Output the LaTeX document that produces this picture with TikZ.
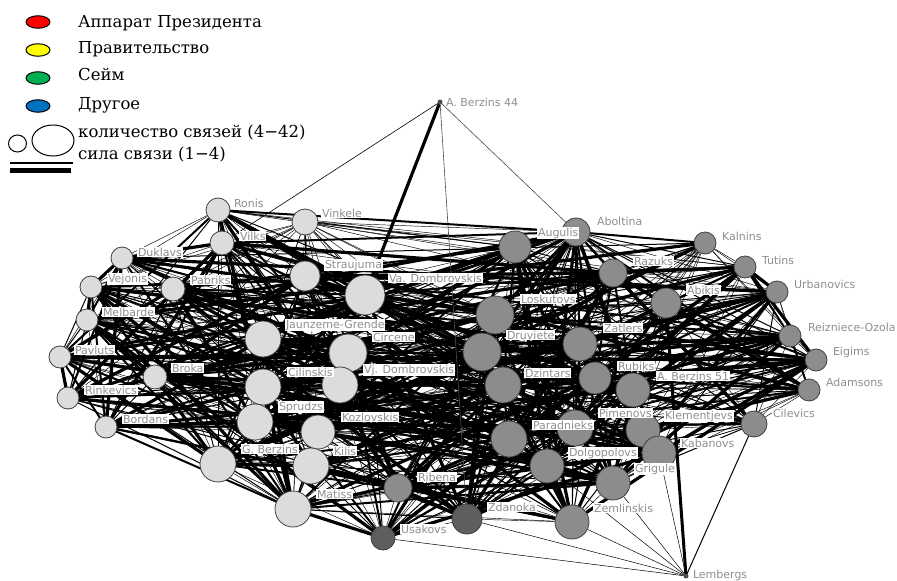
\documentclass[tikz,border=0pt]{standalone}
\usepackage{fontspec}
\newfontfamily\labfont{DejaVu Sans}
\newfontfamily\legfont{DejaVu Serif}
\usetikzlibrary{backgrounds,shapes.geometric}
\definecolor{nlight}{HTML}{DCDCDC}
\definecolor{ngray}{HTML}{8C8C8C}
\definecolor{ndark}{HTML}{5E5E5E}
\definecolor{labgray}{HTML}{8F8F8F}
\definecolor{lgred}{HTML}{FF0000}
\definecolor{lgyellow}{HTML}{FFFF00}
\definecolor{lggreen}{HTML}{00B050}
\definecolor{lgblue}{HTML}{0070C0}
\tikzset{
  vtx/.style={circle, draw=black!75, line width=0.8pt, inner sep=0pt, minimum size=#1},
  dotvtx/.style={circle, fill=black!70, inner sep=0pt, minimum size=5pt},
  lab/.style={anchor=west, fill=white, inner sep=0.8pt, text=labgray, font=\labfont\fontsize{11}{12}\selectfont},
  legtext/.style={anchor=base west, inner sep=0pt, font=\legfont\fontsize{16.5}{18}\selectfont},
  legmark/.style={ellipse, draw=black, line width=1pt, minimum width=24pt, minimum height=12.5pt, inner sep=0pt},
  conn/.style={draw=black, line cap=round}
}
\def\NL{%
ronis/218/210/12/nlight/Ronis/233/203,
vinkele/305/222/13/nlight/Vinkele/321/213,
vilks/222/243/12/nlight/Vilks/239/236,
duklavs/122/258/11/nlight/Duklavs/137/252,
vejonis/91/287/11/nlight/Vejonis/107/279,
pabriks/173/289/12/nlight/Pabriks/190/280,
straujuma/305/276/15/nlight/Straujuma/324/265,
vadomb/365/295/20/nlight/Va. Dombrovskis/388/278,
melbarde/87/320/11/nlight/Melbarde/102/312,
jaunzeme/263/339/18/nlight/Jaunzeme-Grende/285/325,
circene/348/353/19/nlight/Circene/372/337,
pavluts/60/357/11/nlight/Pavluts/74/350,
broka/155/377/12/nlight/Broka/171/368,
cilinskis/263/387/18/nlight/Cilinskis/287/372,
vjdomb/340/385/18/nlight/Vj. Dombrovskis/363/370,
rinkevics/68/398/11/nlight/Rinkevics/84/390,
bordans/106/427/11/nlight/Bordans/122/419,
sprudzs/255/422/18/nlight/Sprudzs/278/407,
kozlovskis/318/432/17/nlight/Kozlovskis/341/417,
gberzins/218/464/18/nlight/G. Berzins/241/449,
kilis/311/466/18/nlight/Kilis/333/451,
matiss/293/509/18/nlight/Matiss/316/494,
ribena/398/488/14/ngray/Ribena/417/477,
usakovs/383/538/12/ndark/Usakovs/400/529,
zdanoka/467/519/15/ndark/Zdanoka/487/507,
aboltina/576/232/14/ngray/Aboltina/596/221,
augulis/515/247/16/ngray/Augulis/537/233,
kalnins/705/243/11/ngray/Kalnins/721/236,
razuks/613/273/14/ngray/Razuks/633/261,
tutins/745/267/11/ngray/Tutins/761/260,
urbanovics/777/292/11/ngray/Urbanovics/793/284,
abikis/666/303/15/ngray/Abikis/686/290,
loskutovs/495/315/19/ngray/Loskutovs/520/299,
druviete/482/352/19/ngray/Druviete/506/335,
zatlers/580/344/17/ngray/Zatlers/603/328,
reizniece/790/336/11/ngray/Reizniece-Ozola/807/327,
eigims/816/360/11/ngray/Eigims/832/352,
dzintars/503/385/18/ngray/Dzintars/524/373,
rubiks/595/378/16/ngray/Rubiks/617/366,
aberzinsfo/633/390/17/ngray/A. Berzins 51/656/376,
adamsons/809/390/11/ngray/Adamsons/825/382,
cilevics/754/424/13/ngray/Cilevics/772/413,
paradnieks/509/439/18/ngray/Paradnieks/532/425,
pimenovs/575/428/18/ngray/Pimenovs/598/413,
klementjevs/643/430/17/ngray/Klementjevs/664/416,
kabanovs/659/453/17/ngray/Kabanovs/680/443,
dolgopolovs/547/466/17/ngray/Dolgopolovs/568/453,
grigule/613/483/17/ngray/Grigule/634/469,
zemlinskis/572/522/17/ngray/Zemlinskis/593/508}
\begin{document}
\begin{tikzpicture}[x=1pt,y=1pt]
\useasboundingbox (0,0) rectangle (897,-581);
% vertices
\foreach \id/\x/\y/\r/\f/\l/\lx/\ly in \NL {
  \node[vtx={2*\r}, fill=\f] (\id) at (\x,-\y) {};
}
\node[dotvtx] (abft) at (440,-102) {};
\node[dotvtx] (lembergs) at (686,-576) {};
% connectors
\begin{pgfonlayer}{background}
\fill[white] (0,0) rectangle (897,-581);
\foreach \ida/\xa/\ya/\ra/\fa/\la/\lxa/\lya [count=\i] in \NL {
  \foreach \idb/\xb/\yb/\rb/\fb/\lb/\lxb/\lyb [count=\j] in \NL {
    \ifnum\j>\i
      \pgfmathtruncatemacro\h{mod(\i*37+\j*23+\i*\j*3,101)}
      \pgfmathsetmacro\d{veclen((\xa-\xb)/10,(\ya-\yb)/10)}
      \pgfmathtruncatemacro\thr{\d<15 ? 82 : (\d<33 ? 62 : 36)}
      \ifnum\h<\thr
        \pgfmathtruncatemacro\w{mod(\i*7+\j*11+\i*\j,13)}
        \ifcase\w \def\lw{0.45}\or\def\lw{0.45}\or\def\lw{0.45}\or\def\lw{0.45}\or\def\lw{1}\or\def\lw{1}\or
          \def\lw{1}\or\def\lw{2}\or\def\lw{2}\or\def\lw{2}\or\def\lw{3.2}\or\def\lw{3.2}\else\def\lw{3.2}\fi
        \draw[conn, line width=\lw pt] (\ida) -- (\idb);
      \fi
    \fi
  }
}
\draw[conn, line width=0.6pt] (abft) -- (vilks);
\draw[conn, line width=3.2pt] (abft) -- (vadomb);
\draw[conn, line width=0.6pt, black!70] (abft) -- (zdanoka);
\draw[conn, line width=0.6pt, black!70] (abft) -- (aboltina);
\draw[conn, line width=1pt] (lembergs) -- (cilevics);
\draw[conn, line width=3pt] (lembergs) -- (abikis);
\draw[conn, line width=0.5pt] (lembergs) -- (kabanovs);
\draw[conn, line width=0.5pt] (lembergs) -- (grigule);
\draw[conn, line width=0.5pt] (lembergs) -- (zemlinskis);
\draw[conn, line width=0.5pt] (lembergs) -- (dolgopolovs);
\draw[conn, line width=0.5pt] (lembergs) -- (zdanoka);
\draw[conn, line width=0.5pt] (lembergs) -- (usakovs);
\end{pgfonlayer}
% labels
\foreach \id/\x/\y/\r/\f/\l/\lx/\ly in \NL {
  \node[lab] (lab-\id) at (\lx,-\ly) {\l};
}
\node[lab, fill=none] (lab-abft) at (445,-102) {A. Berzins 44};
\node[lab, fill=none] (lab-lembergs) at (692,-575) {Lembergs};
% legend
\node[legmark, fill=lgred] (m1) at (38,-22) {};
\node[legmark, fill=lgyellow] (m2) at (38,-50) {};
\node[legmark, fill=lggreen] (m3) at (38,-78) {};
\node[legmark, fill=lgblue] (m4) at (38,-106) {};
\node[legtext] (t1) at (78,-27.5) {Аппарат Президента};
\node[legtext] (t2) at (78,-53.5) {Правительство};
\node[legtext] (t3) at (78,-80.5) {Сейм};
\node[legtext] (t4) at (78,-109) {Другое};
\node[legtext] (t5) at (78,-137) {количество связей (4−42)};
\node[legtext] (t6) at (78,-159) {сила связи (1−4)};
\node[ellipse, draw=black, line width=1pt, minimum width=18pt, minimum height=17pt, inner sep=0pt] (smallc) at (17.5,-143.5) {};
\node[ellipse, draw=black, line width=1pt, minimum width=42pt, minimum height=31pt, inner sep=0pt] (bigc) at (53,-140.5) {};
\coordinate (ta) at (10,-163);
\coordinate (tb) at (73,-163);
\coordinate (ka) at (10,-170.5);
\coordinate (kb) at (71,-170.5);
\draw[line width=1.2pt] (ta) -- (tb);
\draw[line width=4.5pt] (ka) -- (kb);
\end{tikzpicture}
\end{document}
